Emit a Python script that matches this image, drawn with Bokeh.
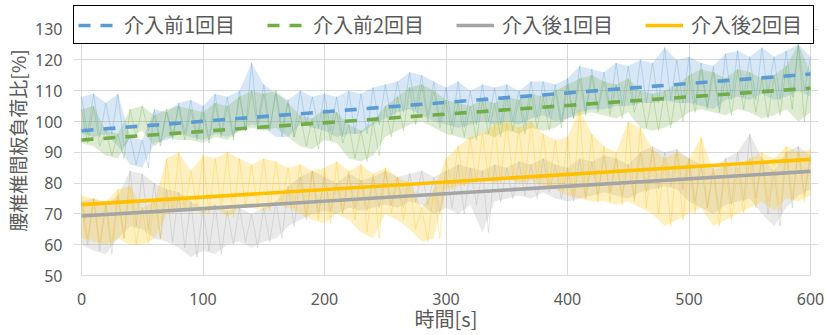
from bokeh.plotting import figure
from bokeh.models import Legend, LegendItem, FixedTicker
from bokeh.embed import file_html
from bokeh.resources import INLINE

# sample times (s) for the read envelopes
t_grid = list(range(0, 610, 10))

# 介入前1回目 (upper / lower envelope every 10 s)
pre1_hi = [108, 109, 106, 109, 95, 94, 104, 103, 106, 107, 105, 109, 108, 110, 119, 112, 109, 107, 110, 108,
           109, 108, 110, 109, 111, 112, 113, 116, 115, 113, 111, 113, 110, 112, 111, 112, 110, 113, 113, 112,
           114, 118, 117, 116, 119, 118, 120, 119, 124, 120, 121, 119, 118, 122, 123, 121, 124, 121, 123, 125, 121]
pre1_lo = [96, 95, 96, 92, 86, 85, 93, 94, 96, 95, 94, 96, 95, 97, 99, 98, 95, 95, 99, 98,
           97, 95, 96, 96, 99, 101, 103, 104, 102, 100, 99, 98, 99, 100, 99, 100, 99, 101, 102, 100,
           101, 103, 104, 104, 105, 105, 106, 106, 107, 106, 106, 105, 104, 107, 108, 107, 109, 107, 108, 110, 108]

# 介入前2回目
pre2_hi = [104, 105, 97, 96, 104, 105, 102, 104, 105, 104, 103, 106, 105, 108, 110, 109, 110, 106, 102, 101,
           104, 103, 99, 97, 100, 105, 108, 111, 112, 110, 107, 106, 105, 107, 106, 108, 107, 109, 108, 110,
           112, 114, 115, 113, 112, 114, 110, 109, 110, 112, 115, 117, 116, 114, 117, 116, 114, 115, 118, 125, 116]
pre2_lo = [93, 92, 89, 88, 95, 97, 92, 95, 94, 94, 93, 95, 94, 97, 98, 97, 98, 95, 92, 91,
           94, 93, 88, 87, 89, 95, 97, 99, 100, 98, 96, 95, 94, 96, 95, 97, 96, 98, 97, 98,
           101, 102, 103, 102, 101, 103, 98, 97, 98, 100, 103, 104, 103, 102, 104, 103, 101, 102, 104, 100, 103]

# 介入後1回目
post1_hi = [74, 75, 73, 76, 84, 83, 80, 78, 77, 74, 72, 73, 71, 72, 70, 72, 74, 79, 82, 84,
            82, 80, 83, 81, 82, 84, 82, 83, 84, 82, 84, 86, 85, 84, 86, 85, 87, 86, 88, 86,
            85, 88, 87, 89, 88, 86, 90, 92, 90, 91, 88, 86, 85, 88, 90, 96, 88, 84, 90, 92, 89]
post1_lo = [60, 58, 57, 62, 66, 65, 62, 61, 59, 56, 58, 57, 60, 61, 59, 61, 62, 66, 68, 70,
            71, 70, 72, 71, 72, 73, 72, 74, 73, 70, 72, 70, 73, 64, 74, 75, 76, 75, 77, 75,
            74, 75, 76, 77, 76, 75, 77, 78, 79, 78, 74, 72, 70, 73, 74, 75, 70, 66, 72, 76, 78]

# 介入後2回目
post2_hi = [76, 75, 74, 78, 79, 72, 74, 88, 90, 84, 89, 88, 90, 88, 86, 88, 87, 85, 86, 84,
            85, 87, 84, 86, 83, 85, 82, 80, 72, 78, 88, 92, 95, 96, 99, 100, 98, 100, 96, 94,
            95, 104, 96, 92, 90, 100, 98, 91, 88, 90, 88, 95, 84, 86, 85, 88, 90, 88, 92, 90, 91]
post2_lo = [62, 61, 60, 62, 60, 60, 62, 70, 71, 72, 70, 72, 69, 72, 72, 71, 73, 72, 70, 68,
            67, 70, 68, 64, 62, 70, 68, 65, 61, 62, 78, 79, 80, 82, 80, 82, 80, 81, 79, 78,
            76, 75, 74, 74, 73, 74, 72, 70, 66, 68, 70, 72, 66, 68, 70, 72, 74, 71, 75, 74, 76]

# linear trend lines (end points)
trend_t = [0, 600]
pre1_trend = [97.0, 115.4]
pre2_trend = [94.0, 110.8]
post1_trend = [69.3, 83.8]
post2_trend = [73.0, 87.7]

names = ["介入前1回目", "介入前2回目", "介入後1回目", "介入後2回目"]
colors = ["#5B9BD5", "#70AD47", "#A5A5A5", "#FFC000"]
x_min, x_max = 0, 600
y_min, y_max = 50, 130
x_ticks = [0, 100, 200, 300, 400, 500, 600]
y_ticks = [50, 60, 70, 80, 90, 100, 110, 120, 130]
x_title = "時間[s]"
y_title = "腰椎椎間板負荷比[%]"

JP = "Noto Sans CJK JP"
TXT = "#595959"


def zigzag(hi, lo):
    xs, ys = [], []
    for i, t in enumerate(t_grid):
        xs.append(t)
        ys.append(hi[i])
        if t + 5 <= x_max:
            xs.append(t + 5)
            ys.append(lo[i])
    return xs, ys


# frame is widened a little (8 px each side, up to the legend top) so the
# legend, which overlaps the plot area as in the original, is not clipped
px_per_x = 729 / (x_max - x_min)
px_per_y = 246.4 / (y_max - y_min)
p = figure(width=826, height=335,
           x_range=(x_min - 8 / px_per_x, x_max + 8 / px_per_x),
           y_range=(y_min, y_max + 23.6 / px_per_y),
           output_backend="svg", toolbar_location=None,
           min_border_left=73, min_border_right=8, min_border_top=5, min_border_bottom=60)
p.outline_line_color = None
p.background_fill_color = "white"

raw = [(pre1_hi, pre1_lo), (pre2_hi, pre2_lo), (post1_hi, post1_lo), (post2_hi, post2_lo)]
for (hi, lo), c in zip(raw, colors):
    p.varea(x=t_grid, y1=lo, y2=hi, fill_color=c, fill_alpha=0.24)
    xs, ys = zigzag(hi, lo)
    p.line(xs, ys, line_color=c, line_alpha=0.3, line_width=1.0)

trends = [pre1_trend, pre2_trend, post1_trend, post2_trend]
dashes = ["12 10", "12 10", "solid", "solid"]
rends = []
for tr, c, d in zip(trends, colors, dashes):
    r = p.line(trend_t, tr, line_color=c, line_width=3.6, line_dash=d)
    rends.append(r)

# axes
p.xaxis.ticker = FixedTicker(ticks=x_ticks)
p.yaxis.ticker = FixedTicker(ticks=y_ticks)
p.xgrid.ticker = FixedTicker(ticks=x_ticks)
p.ygrid.ticker = FixedTicker(ticks=y_ticks)
p.xaxis.bounds = (x_min, x_max)
p.yaxis.bounds = (y_min, y_max)
p.xgrid.bounds = (y_min, y_max)
p.ygrid.bounds = (x_min, x_max)
p.xgrid.grid_line_color = "#D9D9D9"
p.ygrid.grid_line_color = "#D9D9D9"
for ax in (p.xaxis, p.yaxis):
    ax.major_tick_line_color = None
    ax.minor_tick_line_color = None
    ax.major_tick_out = 0
    ax.major_tick_in = 0
    ax.minor_tick_out = 0
    ax.minor_tick_in = 0
    ax.major_label_text_font = "Noto Sans"
    ax.major_label_text_font_size = "16px"
    ax.major_label_text_color = TXT
    ax.axis_label_text_font = JP
    ax.axis_label_text_font_style = "normal"
    ax.axis_label_text_color = TXT
p.xaxis.axis_line_color = "#D9D9D9"
p.yaxis.axis_line_color = None
p.xaxis.major_label_standoff = 17
p.yaxis.major_label_standoff = 11
p.xaxis.axis_label = x_title
p.yaxis.axis_label = y_title
p.xaxis.axis_label_text_font_size = "20px"
p.yaxis.axis_label_text_font_size = "19px"
p.xaxis.axis_label_standoff = -4
p.yaxis.axis_label_standoff = 1

legend = Legend(items=[LegendItem(label=n, renderers=[r]) for n, r in zip(names, rends)],
                location=(0, 231), orientation="horizontal",
                border_line_color="black", border_line_width=1, border_line_alpha=1,
                background_fill_color="white", background_fill_alpha=1,
                label_text_font=JP, label_text_font_size="20px", label_text_color=TXT,
                glyph_width=38, glyph_height=20, label_standoff=8, label_width=118,
                spacing=25, padding=4, margin=0)
p.add_layout(legend, "center")

open("out.html", "w").write(file_html(p, INLINE))
